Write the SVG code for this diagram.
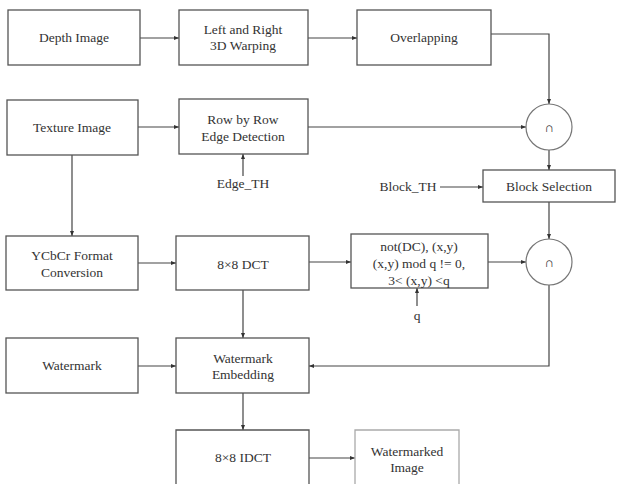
<svg xmlns="http://www.w3.org/2000/svg" width="623" height="489" viewBox="0 0 623 489">
<defs>
<style>
.box{fill:#fff;stroke:#555;stroke-width:1.3}
.open{fill:none;stroke:#555;stroke-width:1.3}
text{font-family:'Liberation Serif','DejaVu Serif',serif;font-size:13.5px;fill:#333;text-anchor:middle}
.c{fill:none;stroke:#444;stroke-width:1.2}
.cir{fill:#fff;stroke:#777;stroke-width:1.2}
</style>
<marker id="ah" viewBox="0 0 10 10" refX="10" refY="5" markerWidth="5" markerHeight="5" orient="auto" markerUnits="userSpaceOnUse">
<path d="M0,1 L10,5 L0,9 z" fill="#333"/>
</marker>
</defs>
<rect width="623" height="489" fill="#fff"/>

<g id="connectors">
<path class="c" marker-end="url(#ah)" d="M140,38 H179"/>
<path class="c" marker-end="url(#ah)" d="M308,38 H357"/>
<path class="c" marker-end="url(#ah)" d="M491,34 H549 V104"/>
<path class="c" marker-end="url(#ah)" d="M308,127 H526"/>
<path class="c" marker-end="url(#ah)" d="M138,127 H179"/>
<path class="c" marker-end="url(#ah)" d="M243,176 V154"/>
<path class="c" marker-end="url(#ah)" d="M549,150 V170"/>
<path class="c" marker-end="url(#ah)" d="M440,187 H483"/>
<path class="c" marker-end="url(#ah)" d="M549,202 V239"/>
<path class="c" marker-end="url(#ah)" d="M72,155 V236"/>
<path class="c" marker-end="url(#ah)" d="M138,263 H176"/>
<path class="c" marker-end="url(#ah)" d="M309,262 H351"/>
<path class="c" marker-end="url(#ah)" d="M488,262 H526"/>
<path class="c" marker-end="url(#ah)" d="M417,306 V288"/>
<path class="c" marker-end="url(#ah)" d="M549,285 V366 H309"/>
<path class="c" marker-end="url(#ah)" d="M243,290 V338"/>
<path class="c" marker-end="url(#ah)" d="M138,366 H176"/>
<path class="c" marker-end="url(#ah)" d="M243,393 V430"/>
<path class="c" marker-end="url(#ah)" d="M309,458 H355"/>
</g>

<g id="depth"><rect class="box" x="8" y="10" width="132" height="55"/><text x="74" y="42">Depth Image</text></g>
<g id="warping"><rect class="box" x="179" y="10" width="129" height="55"/><text x="243" y="34">Left and Right</text><text x="243" y="50">3D Warping</text></g>
<g id="overlapping"><rect class="box" x="357" y="10" width="134" height="55"/><text x="424" y="42">Overlapping</text></g>
<g id="texture"><rect class="box" x="7" y="100" width="131" height="55"/><text x="72" y="132">Texture Image</text></g>
<g id="edge"><rect class="box" x="179" y="99" width="129" height="55"/><text x="243" y="124">Row by Row</text><text x="243" y="141">Edge Detection</text></g>
<g id="edge_th"><text x="243" y="188">Edge_TH</text></g>
<g id="and1"><circle class="cir" cx="549" cy="127" r="23"/><text x="549" y="132">∩</text></g>
<g id="block_th"><text x="408" y="191">Block_TH</text></g>
<g id="blocksel"><rect class="box" x="483" y="170" width="132" height="32"/><text x="549" y="191">Block Selection</text></g>
<g id="ycbcr"><rect class="box" x="6" y="236" width="132" height="54"/><text x="72" y="260">YCbCr Format</text><text x="72" y="277">Conversion</text></g>
<g id="dct"><rect class="box" x="176" y="236" width="133" height="54"/><text x="243" y="269">8×8 DCT</text></g>
<g id="cond"><rect class="box" x="351" y="234" width="137" height="54"/><text x="419" y="251">not(DC), (x,y)</text><text x="419" y="268">(x,y) mod q != 0,</text><text x="419" y="285">3&lt; (x,y) &lt;q</text></g>
<g id="q"><text x="417" y="320">q</text></g>
<g id="and2"><circle class="cir" cx="549" cy="262" r="23"/><text x="549" y="267">∩</text></g>
<g id="watermark"><rect class="box" x="6" y="338" width="132" height="55"/><text x="72" y="370">Watermark</text></g>
<g id="embed"><rect class="box" x="176" y="338" width="133" height="55"/><text x="243" y="363">Watermark</text><text x="243" y="379">Embedding</text></g>
<g id="idct"><path class="open" d="M176,484 V430 H309 V484"/><text x="243" y="462">8×8 IDCT</text></g>
<g id="output"><path class="open" style="stroke:#aaa" d="M355,484 V430 H459 V484"/><text x="407" y="456">Watermarked</text><text x="407" y="472">Image</text></g>
</svg>
